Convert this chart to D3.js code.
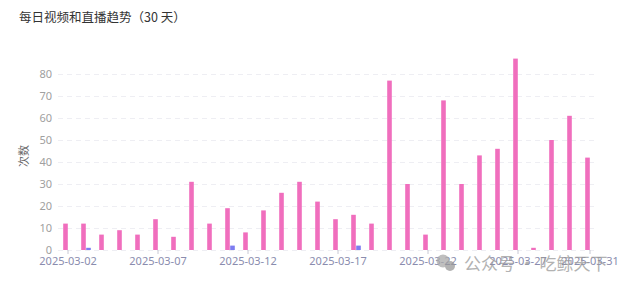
<!DOCTYPE html>
<html>
<head>
<meta charset="utf-8">
<script src="https://cdn.jsdelivr.net/npm/d3@7"></script>
<style>
  body { margin: 0; background: #fff; }
  svg { font-family: "Noto Sans CJK SC", "Noto Sans", sans-serif; }
</style>
</head>
<body>
<div class="graph"></div>
<script>
// data
var dates = [];
for (var d = 2; d <= 31; d++) dates.push("2025-03-" + (d < 10 ? "0" + d : d));
var videoCounts = [12, 12, 7, 9, 7, 14, 6, 31, 12, 19, 8, 18, 26, 31, 22,
                   14, 16, 12, 77, 30, 7, 68, 30, 43, 46, 87, 1, 50, 61, 42];
var liveCounts  = [0, 1, 0, 0, 0, 0, 0, 0, 0, 2, 0, 0, 0, 0, 0,
                   0, 2, 0, 0, 0, 0, 0, 0, 0, 0, 0, 0, 0, 0, 0];
var yTicks = [0, 10, 20, 30, 40, 50, 60, 70, 80];
var xTickLabels = ["2025-03-02", "2025-03-07", "2025-03-12", "2025-03-17",
                   "2025-03-22", "2025-03-27", "2025-03-31"];

var pink = "#f06ebd", blue = "#7d7cf0";

var svgWidth = 627, svgHeight = 288;
var svg = d3.select("div.graph").append("svg")
    .attr("width", svgWidth)
    .attr("height", svgHeight);

svg.append("text")
    .attr("x", 19).attr("y", 22)
    .attr("font-size", 12.5).attr("fill", "#333")
    .text("每日视频和直播趋势（30 天）");

var x = d3.scaleBand().domain(dates).range([59, 599]);
var y = d3.scaleLinear().domain([0, 80]).range([250, 74]);
var barW = 4.6;

// grid
svg.append("g").selectAll("line")
    .data(yTicks)
    .join("line")
    .attr("x1", 58).attr("x2", 598)
    .attr("y1", function (d) { return y(d) + 0.5; })
    .attr("y2", function (d) { return y(d) + 0.5; })
    .attr("stroke", "#eeeef3")
    .attr("stroke-dasharray", "5,4");

var yAxis = svg.append("g")
    .attr("transform", "translate(58,0)")
    .call(d3.axisLeft(y).tickValues(yTicks).tickSize(0).tickPadding(6));
yAxis.select(".domain").remove();
yAxis.selectAll("text").attr("fill", "#a0a0a0").attr("font-size", 11)
    .attr("font-family", "'Noto Sans', sans-serif");

svg.append("text")
    .attr("transform", "translate(28,156) rotate(-90)")
    .attr("text-anchor", "middle")
    .attr("font-size", 11).attr("fill", "#666")
    .text("次数");

var xAxis = svg.append("g")
    .attr("transform", "translate(0,250)")
    .call(d3.axisBottom(x).tickValues(xTickLabels).tickSize(4).tickPadding(3));
xAxis.select(".domain").remove();
xAxis.selectAll("line").attr("stroke", "#c8c8d4");
xAxis.selectAll("text").attr("fill", "#8a8cae").attr("font-size", 11)
    .attr("font-family", "'Noto Sans', sans-serif");

// bars
svg.append("g").selectAll("rect")
    .data(videoCounts)
    .join("rect")
    .attr("x", function (d, i) { return x(dates[i]) + x.bandwidth() / 2 - barW - 0.2; })
    .attr("y", function (d) { return y(d); })
    .attr("width", barW)
    .attr("height", function (d) { return y(0) - y(d); })
    .attr("fill", pink);

svg.append("g").selectAll("rect")
    .data(liveCounts)
    .join("rect")
    .attr("x", function (d, i) { return x(dates[i]) + x.bandwidth() / 2 + 0.2; })
    .attr("y", function (d) { return y(d); })
    .attr("width", barW)
    .attr("height", function (d) { return y(0) - y(d); })
    .attr("fill", blue);

// watermark
var wm = svg.append("g").attr("opacity", 0.75);
wm.append("circle").attr("cx", 443).attr("cy", 261).attr("r", 6.5).attr("fill", "#aaa");
wm.append("circle").attr("cx", 450).attr("cy", 266).attr("r", 5).attr("fill", "#999");
wm.append("text")
    .attr("x", 464).attr("y", 270)
    .attr("font-size", 17).attr("fill", "#999")
    .text("公众号 · 吃鲸天下");
</script>
</body>
</html>
